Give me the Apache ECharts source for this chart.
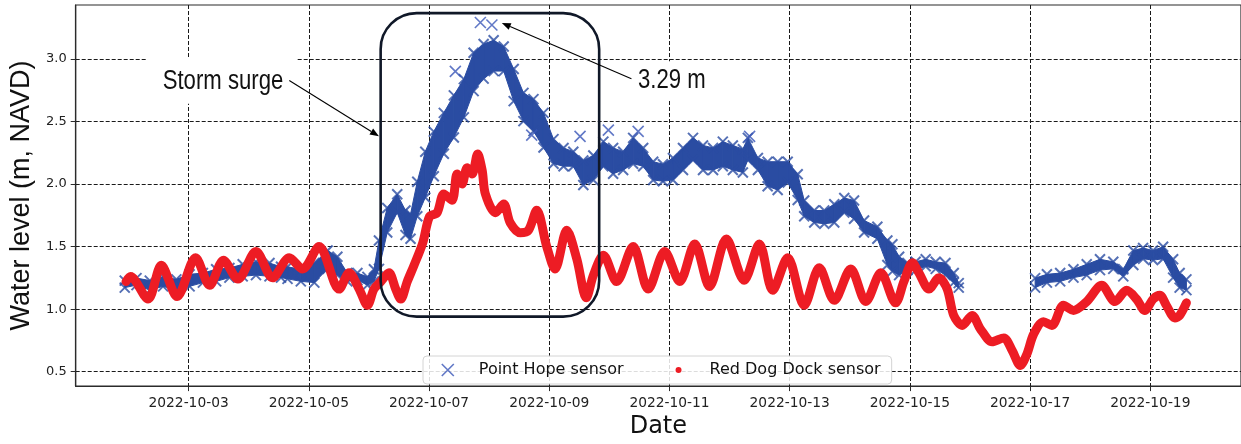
<!DOCTYPE html>
<html><head><meta charset="utf-8">
<script src="https://cdn.jsdelivr.net/npm/echarts@6/dist/echarts.min.js"></script>
<style>html,body{margin:0;padding:0;background:#fff}#c{width:1241px;height:444px}</style>
</head><body><div id="c"></div>
<script>
// ---- DATA (time = hours since 2022-10-01 00:00 UTC, level in m NAVD) ----
const redHours = [23.0,24.8,31.8,37.1,43.4,50.8,56.4,61.9,67.7,74.9,
  81.5,88.2,93.5,100.1,108.1,112.1,116.1,119.4,122.0,124.7,
  128.0,130.7,132.7,135.3,138.0,141.5,144.2,147.2,149.9,153.2,
  155.2,157.2,159.2,161.2,163.4,165.2,166.5,170.5,173.8,176.4,
  180.4,183.7,187.0,191.0,194.3,199.0,203.0,206.8,209.6,213.6,
  218.9,225.5,231.5,238.1,244.1,250.1,256.0,262.7,269.8,275.9,
  281.2,287.2,293.8,299.8,305.8,312.4,318.4,324.4,330.3,333.6,
  337.0,339.6,343.6,347.6,350.9,353.5,356.9,360.8,364.2,368.8,
  373.5,376.8,380.1,382.7,385.4,389.3,392.7,397.3,401.3,406.6,
  412.6,417.9,422.5,426.5,429.8,433.1,435.8,438.4,441.8,443.7,446.4];
const redLevel = [1.22,1.26,1.08,1.35,1.10,1.41,1.19,1.39,1.24,1.46,
  1.25,1.41,1.32,1.50,1.16,1.29,1.16,1.03,1.16,1.22,
  1.29,1.16,1.08,1.22,1.35,1.53,1.74,1.77,1.92,1.87,
  2.08,2.00,2.13,2.08,2.24,2.11,1.92,1.77,1.84,1.69,
  1.61,1.63,1.79,1.50,1.32,1.63,1.40,1.09,1.27,1.43,
  1.22,1.50,1.16,1.46,1.22,1.52,1.18,1.56,1.23,1.52,
  1.15,1.41,1.03,1.33,1.07,1.32,1.06,1.29,1.05,1.22,
  1.37,1.29,1.16,1.25,1.16,0.95,0.87,0.95,0.84,0.74,
  0.77,0.67,0.55,0.64,0.80,0.90,0.87,1.03,0.99,1.06,
  1.19,1.06,1.15,1.08,0.99,1.08,1.11,1.03,0.93,0.95,1.05];

// Point Hope: upper and lower edge of the dense band of readings (null = no data)
const blueHours = [22.5,27.2,32.5,37.8,43.1,48.4,53.7,59.0,64.3,69.6,
  74.9,80.3,84.9,87.5,92.8,98.2,103.5,107.4,111.4,115.4,
  119.4,122.0,124.0,127.3,131.3,134.6,136.6,139.3,142.5,145.9,
  149.9,153.9,157.9,161.8,165.8,169.8,173.8,177.8,181.7,185.7,
  189.7,193.7,197.7,201.6,205.6,209.6,213.6,217.5,221.5,225.5,
  229.5,233.5,237.4,241.4,245.4,249.4,253.4,257.4,261.3,265.3,
  269.3,271.3,275.3,279.2,283.2,287.2,291.2,293.8,297.8,301.8,
  305.8,309.8,313.7,317.7,323.0,327.0,329.0,331.7,335.0,338.3,
  342.3,346.3,350.2,353.5,355.5,370.0,386.0,390.7,396.0,401.3,
  406.6,411.9,417.2,421.2,425.2,429.1,433.1,437.1,441.1,443.7,446.4];
const blueHigh = [1.26,1.28,1.26,1.29,1.27,1.31,1.32,1.35,1.36,1.39,
  1.41,1.40,1.37,1.37,1.35,1.40,1.50,1.45,1.32,1.32,
  1.29,1.35,1.58,1.84,1.95,1.82,1.79,2.05,2.29,2.45,
  2.60,2.74,2.87,3.08,3.15,3.18,3.13,2.95,2.76,2.71,
  2.60,2.39,2.32,2.29,2.22,2.26,2.37,2.32,2.29,2.40,
  2.32,2.21,2.19,2.24,2.32,2.40,2.34,2.32,2.37,2.34,
  2.31,2.40,2.24,2.21,2.21,2.21,2.11,1.90,1.82,1.82,
  1.87,1.92,1.90,1.74,1.69,1.58,1.55,1.45,1.40,1.41,
  1.43,1.41,1.40,1.32,1.24,null,1.28,1.31,1.32,1.35,
  1.39,1.43,1.41,1.35,1.50,1.52,1.50,1.53,1.43,1.32,1.27];
const blueLow = [1.14,1.16,1.12,1.15,1.12,1.15,1.18,1.19,1.22,1.23,
  1.24,1.23,1.22,1.21,1.19,1.18,1.29,1.24,1.19,1.20,
  1.16,1.19,1.29,1.58,1.74,1.56,1.53,1.71,1.86,2.03,
  2.21,2.34,2.50,2.71,2.81,2.87,2.87,2.63,2.47,2.39,
  2.26,2.13,2.11,2.11,1.96,2.00,2.11,2.05,2.08,2.13,
  2.11,2.00,1.99,2.00,2.08,2.16,2.08,2.08,2.11,2.08,
  2.06,2.16,2.08,1.95,1.92,1.98,1.84,1.71,1.66,1.65,
  1.66,1.74,1.69,1.58,1.53,1.32,1.27,1.24,1.28,1.28,
  1.31,1.29,1.24,1.18,1.14,null,1.14,1.18,1.19,1.22,
  1.24,1.28,1.29,1.23,1.32,1.37,1.36,1.37,1.22,1.14,1.12];
// isolated Point Hope readings standing out of the band
const blueOutHours = [154.5,164.5,169.1,185.0,204.3,215.6,227.5,272.0];
const blueOutLevel = [2.90,3.29,3.27,2.39,2.38,2.43,2.42,2.38];

const xTickHours = [48,96,144,192,240,288,336,384,432];
const yTicks = [0.5,1.0,1.5,2.0,2.5,3.0];
const seriesNames = ['Point Hope sensor','Red Dog Dock sensor'];
const axisTitles = { x: 'Date', y: 'Water level (m, NAVD)' };
const noteTexts = { surge: 'Storm surge', peak: '3.29 m' };

// ---- LAYOUT / STYLE ----
const BASE_MS = Date.UTC(2022, 9, 1);
const X_MIN = 2.92, X_MAX = 468.2, Y_MIN = 0.385, Y_MAX = 3.43;
const GRID = { left: 75.7, top: 5, width: 1169.3, height: 387.3 };
const BLUE = '#2a4ca2', RED = '#ed1c24', INK = '#1a1a1a';
const X_SYM = 'path://M0,0L10,10M10,0L0,10';
const EDGE_PX = 4;

// annotation anchors in data units
const NOTES = {
  box: { h0: 124.68, v0: 3.365, h1: 211.93, v1: 0.940 },
  surgeText: [37.65, 2.821], surgeArrow: [[88.19, 2.827], [124.0, 2.382]],
  peakText: [227.45, 2.825], peakArrow: [[224.8, 2.840], [173.06, 3.286]]
};

function fmtDate(h) {
  const d = new Date(BASE_MS + Math.round(h * 3600000));
  return d.getUTCFullYear() + '-' + String(d.getUTCMonth() + 1).padStart(2, '0') + '-' + String(d.getUTCDate()).padStart(2, '0');
}

const redData = redHours.map((h, i) => [h, redLevel[i]]);
const topEdge = blueHours.map((h, i) => [h, blueHigh[i] == null ? '-' : blueHigh[i]]);
const lowEdge = blueHours.map((h, i) => [h, blueLow[i] == null ? '-' : blueLow[i]]);
const bandData = blueHours.map((h, i) => [h, blueLow[i] == null ? '-' : blueLow[i], blueHigh[i] == null ? '-' : blueHigh[i]]);
const outData = blueOutHours.map((h, i) => [h, blueOutLevel[i]]);

// band between the edges, drawn segment by segment through the axis scales
function renderBand(params, api) {
  const i = params.dataIndex;
  if (i >= blueHours.length - 1) return null;
  if (blueLow[i] == null || blueLow[i + 1] == null) return null;
  const a0 = api.coord([blueHours[i], blueLow[i]]), a1 = api.coord([blueHours[i + 1], blueLow[i + 1]]);
  const b0 = api.coord([blueHours[i], blueHigh[i]]), b1 = api.coord([blueHours[i + 1], blueHigh[i + 1]]);
  return {
    type: 'polygon',
    shape: { points: [[a0[0], a0[1] - EDGE_PX], [a1[0], a1[1] - EDGE_PX], [b1[0], b1[1] + EDGE_PX], [b0[0], b0[1] + EDGE_PX]] },
    style: { fill: BLUE, stroke: BLUE, lineWidth: 1 }
  };
}

const chart = echarts.init(document.getElementById('c'), null, { renderer: 'canvas' });
const xStyle = { color: BLUE, borderColor: BLUE, borderWidth: 2 };

chart.setOption({
  animation: false,
  backgroundColor: '#fff',
  grid: { left: GRID.left, top: GRID.top, width: GRID.width, height: GRID.height,
    show: true, borderColor: '#2b2b2b', borderWidth: 1.2, backgroundColor: 'transparent' },
  xAxis: {
    type: 'value', min: X_MIN, max: X_MAX,
    name: axisTitles.x, nameLocation: 'middle', nameGap: 25,
    nameTextStyle: { fontFamily: 'DejaVu Sans', fontSize: 24, color: '#111' },
    axisLine: { show: true, onZero: false, lineStyle: { color: '#2b2b2b', width: 1.2 } },
    axisTick: { show: true, customValues: xTickHours, length: 5, lineStyle: { color: '#2b2b2b', width: 1 } },
    axisLabel: { customValues: xTickHours, formatter: fmtDate, fontFamily: 'DejaVu Sans', fontSize: 13.8, color: '#222', margin: 10 },
    splitLine: { show: true, lineStyle: { type: [4, 2], color: INK, width: 1 } }
  },
  yAxis: {
    type: 'value', min: Y_MIN, max: Y_MAX,
    name: axisTitles.y, nameLocation: 'middle', nameGap: 37, nameRotate: 90,
    nameTextStyle: { fontFamily: 'Liberation Sans', fontSize: 27, color: '#111' },
    axisLine: { show: true, onZero: false, lineStyle: { color: '#2b2b2b', width: 1.2 } },
    axisTick: { show: true, customValues: yTicks, length: 5, lineStyle: { color: '#2b2b2b', width: 1 } },
    axisLabel: { customValues: yTicks, formatter: v => v.toFixed(1), fontFamily: 'DejaVu Sans', fontSize: 13, color: '#222', margin: 9 },
    splitLine: { show: true, lineStyle: { type: [4, 2], color: INK, width: 1 } }
  },
  legend: {
    left: 423, top: 356, orient: 'horizontal',
    padding: [6, 11, 6, 18], itemGap: 49, itemWidth: 32, itemHeight: 12,
    backgroundColor: 'rgba(255,255,255,0.85)', borderColor: '#d4d4d4', borderWidth: 1, borderRadius: 4,
    selectedMode: false,
    textStyle: { fontFamily: 'DejaVu Sans', fontSize: 16, color: '#111', lineHeight: 16 },
    data: [
      { name: seriesNames[0], icon: 'path://M0,0L12,12M12,0L0,12M32,6Z',
        itemStyle: { color: 'rgba(0,0,0,0)', borderColor: '#3a56b8', borderWidth: 1.6 } },
      { name: seriesNames[1], icon: 'path://M0,0ZM32,12ZM3,6A3,3,0,1,1,9,6A3,3,0,1,1,3,6Z',
        itemStyle: { color: RED, borderWidth: 0 } }
    ]
  },
  series: [
    { type: 'custom', name: 'pbBand', data: bandData, renderItem: renderBand, silent: true,
      encode: { x: 0, y: [1, 2] }, z: 2 },
    { type: 'scatter', name: seriesNames[0], data: topEdge, symbol: X_SYM, symbolSize: 10,
      symbolOffset: [0, EDGE_PX], itemStyle: xStyle, z: 3 },
    { type: 'scatter', name: seriesNames[0], data: lowEdge, symbol: X_SYM, symbolSize: 10,
      symbolOffset: [0, -EDGE_PX], itemStyle: xStyle, z: 3 },
    { type: 'scatter', name: seriesNames[0], data: outData, symbol: X_SYM, symbolSize: 11,
      itemStyle: { color: '#3a56b8', borderColor: '#3a56b8', borderWidth: 1.6 }, z: 3 },
    { type: 'line', name: seriesNames[1], data: redData, symbol: 'none', smooth: 0.3,
      lineStyle: { color: RED, width: 9, cap: 'round', join: 'round' }, itemStyle: { color: RED }, z: 4 }
  ]
});

// ---- annotations anchored in data coordinates ----
function narrowFont(size) {
  const c = document.createElement('canvas').getContext('2d');
  c.font = size + 'px "Liberation Sans Narrow", monospace';
  const a = c.measureText('Storm surge').width;
  c.font = size + 'px monospace';
  const b = c.measureText('Storm surge').width;
  return Math.abs(a - b) > 0.5 ? { family: '"Liberation Sans Narrow"', sx: 1 } : { family: '"Liberation Sans"', sx: 0.82 };
}
const nf = narrowFont(27);
const P = (p) => chart.convertToPixel({ gridIndex: 0 }, p);
function arrow(from, to) {
  const a = P(from), b = P(to);
  const dx = b[0] - a[0], dy = b[1] - a[1], L = Math.hypot(dx, dy);
  const ux = dx / L, uy = dy / L, hl = 9, hw = 3.5;
  const bx = b[0] - ux * hl, by = b[1] - uy * hl;
  return [
    { type: 'line', z: 50, shape: { x1: a[0], y1: a[1], x2: bx, y2: by }, style: { stroke: '#000', lineWidth: 1.1 } },
    { type: 'polygon', z: 50, shape: { points: [[b[0], b[1]], [bx - uy * hw, by + ux * hw], [bx + uy * hw, by - ux * hw]] }, style: { fill: '#000' } }
  ];
}
function note(text, at, pad) {
  const p = P(at);
  return { type: 'text', z: 40, x: p[0] - pad[3] * nf.sx, y: p[1], scaleX: nf.sx, originX: 0,
    style: { text: text, font: '27px ' + nf.family, fill: '#111', align: 'left', verticalAlign: 'middle',
      backgroundColor: '#fff', padding: pad } };
}
const b0 = P([NOTES.box.h0, NOTES.box.v0]), b1 = P([NOTES.box.h1, NOTES.box.v1]);
chart.setOption({
  graphic: [
    { type: 'rect', z: 45, shape: { x: b0[0], y: b0[1], width: b1[0] - b0[0], height: b1[1] - b0[1], r: 36 },
      style: { fill: 'none', stroke: '#101828', lineWidth: 2.6 } },
    note(noteTexts.surge, NOTES.surgeText, [10, 16, 8, 20]),
    note(noteTexts.peak, NOTES.peakText, [6, 6, 6, 6]),
    ...arrow(NOTES.surgeArrow[0], NOTES.surgeArrow[1]),
    ...arrow(NOTES.peakArrow[0], NOTES.peakArrow[1])
  ]
});
</script></body></html>
